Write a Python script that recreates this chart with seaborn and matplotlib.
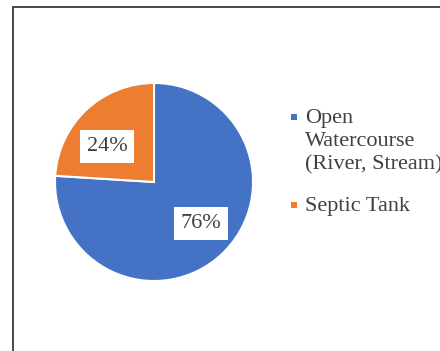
import matplotlib
matplotlib.use("Agg")
import matplotlib.pyplot as plt
from matplotlib.patches import Rectangle
import seaborn as sns

categories = ["Open\nWatercourse\n(River, Stream)", "Septic Tank"]
shares = [76, 24]
colors = ["#4472C4", "#ED7D31"]

sns.set_theme(style="white")
plt.rcParams["font.family"] = ["Liberation Serif", "DejaVu Serif"]

W, H = 440, 351
fig = plt.figure(figsize=(W / 100, H / 100), dpi=100)
fig.patch.set_facecolor("white")

# outer chart frame (runs off the right and bottom edges)
fig.add_artist(Rectangle((12.5 / W, -0.05), 1.2, (H - 6.5) / H + 0.05,
                         transform=fig.transFigure, fill=False,
                         edgecolor="#3a3a3a", linewidth=1.3))

cx, cy, r = 154, 182, 99
ax = fig.add_axes([(cx - r) / W, (H - cy - r) / H, 2 * r / W, 2 * r / H])

wedges, texts, autotexts = ax.pie(
    shares, colors=colors, startangle=90, counterclock=False, radius=1,
    autopct=lambda p: f"{p:.0f}%", pctdistance=0.62,
    wedgeprops=dict(edgecolor="white", linewidth=1.5),
    textprops=dict(fontsize=16, color="#404040"),
)
ax.set_xlim(-1, 1)
ax.set_ylim(-1, 1)
ax.set_aspect("equal")
ax.axis("off")

# nudge the percentage labels a little toward the horizontal
nudges = [(0.05, 0.03), (-0.05, -0.09)]
for t, (dx, dy) in zip(autotexts, nudges):
    x0, y0 = t.get_position()
    t.set_position((x0 + dx, y0 + dy))
    t.set_bbox(dict(facecolor="white", edgecolor="none", pad=5))

# legend: square swatch aligned with the first line of each entry
line_h = 25
y = 117
for cat, c in zip(categories, colors):
    fig.add_artist(Rectangle(((294 - 3) / W, (H - y - 3) / H), 6 / W, 6 / H,
                             transform=fig.transFigure, facecolor=c,
                             edgecolor="none"))
    fig.text(305 / W, (H - y + 8) / H, cat, ha="left", va="top",
             fontsize=16, color="#404040", linespacing=1.3)
    y += cat.count("\n") * line_h + line_h + 13

fig.savefig("out.png", dpi=100, facecolor="white")
